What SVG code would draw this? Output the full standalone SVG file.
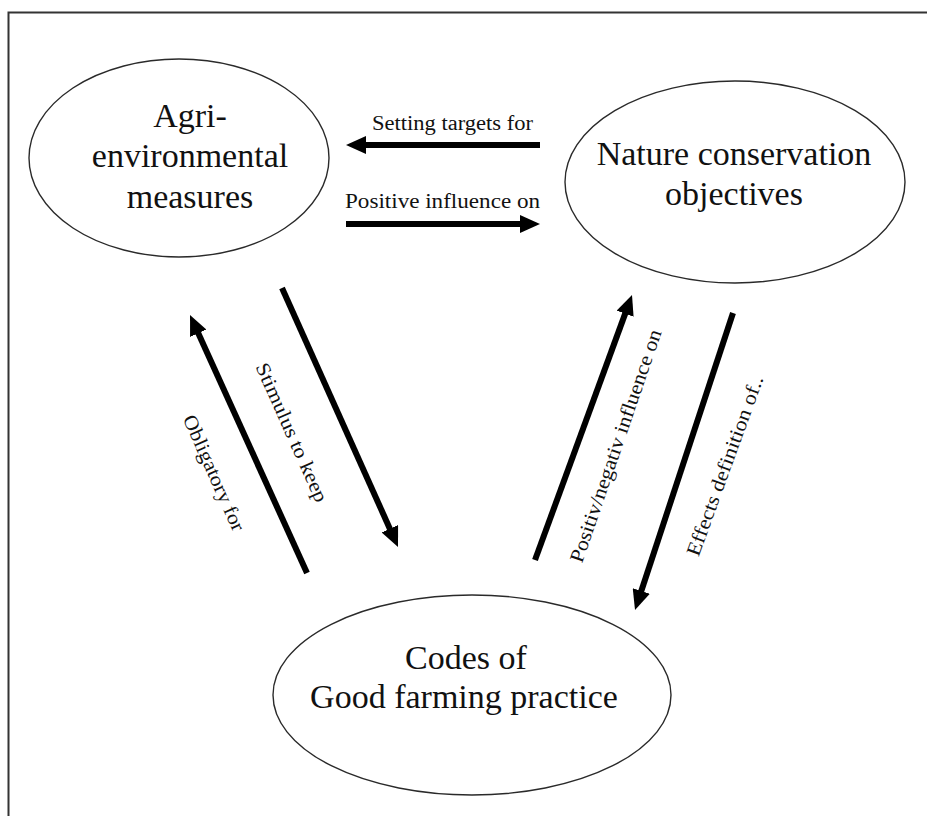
<svg xmlns="http://www.w3.org/2000/svg" width="927" height="816" viewBox="0 0 927 816">
  <style>
    .node ellipse { fill: #ffffff; stroke: #2a2a2a; stroke-width: 1.4; }
    .big { font-size: 34px; fill: #111; text-anchor: middle; }
    .small { font-size: 20px; fill: #111; text-anchor: middle; }
    .edge { stroke: #000; stroke-width: 6; fill: none; marker-end: url(#head); }
  </style>
  <defs>
    <marker id="head" markerUnits="userSpaceOnUse" markerWidth="20" markerHeight="18" refX="6" refY="9" orient="auto">
      <path d="M0,0 L20,9 L0,18 Z" fill="#000"/>
    </marker>
  </defs>

  <rect width="927" height="816" fill="#ffffff"/>
  <!-- outer frame -->
  <rect x="8.5" y="12.5" width="1000" height="900" fill="none" stroke="#333" stroke-width="2"/>

  <g font-family="Liberation Serif, DejaVu Serif, Times New Roman, serif">
    <g id="agri">
      <g class="node">
        <ellipse cx="179" cy="158" rx="150" ry="99"/>
      </g>
      <text class="big" x="190" y="127">Agri-</text>
      <text class="big" x="190" y="167">environmental</text>
      <text class="big" x="190" y="208">measures</text>
    </g>

    <g id="nature">
      <g class="node">
        <ellipse cx="735" cy="182" rx="170" ry="101"/>
      </g>
      <text class="big" x="734" y="165">Nature conservation</text>
      <text class="big" x="734" y="205">objectives</text>
    </g>

    <g id="codes">
      <g class="node">
        <ellipse cx="472" cy="695" rx="199" ry="100"/>
      </g>
      <text class="big" x="466" y="669">Codes of</text>
      <text class="big" x="464" y="708">Good farming practice</text>
    </g>

    <g id="connectors">
      <line class="edge" x1="540" y1="145" x2="360" y2="145"/>
      <line class="edge" x1="346" y1="224" x2="526" y2="224"/>
      <line class="edge" x1="282" y1="288" x2="392.3" y2="534.2"/>
      <line class="edge" x1="307" y1="573" x2="195.8" y2="327.8"/>
      <line class="edge" x1="535" y1="560" x2="627.2" y2="308.1"/>
      <line class="edge" x1="733" y1="313" x2="639.4" y2="596.7"/>

      <text class="small" x="452.5" y="130" textLength="161" lengthAdjust="spacingAndGlyphs">Setting targets for</text>
      <text class="small" x="442.5" y="208" textLength="195" lengthAdjust="spacingAndGlyphs">Positive influence on</text>
      <text class="small" transform="translate(285.8 435.1) rotate(66)" textLength="150" lengthAdjust="spacingAndGlyphs">Stimulus to keep</text>
      <text class="small" transform="translate(208 475.6) rotate(66)" textLength="125" lengthAdjust="spacingAndGlyphs">Obligatory for</text>
      <text class="small" transform="translate(621.9 447.9) rotate(-71)" textLength="245" lengthAdjust="spacingAndGlyphs">Positiv/negativ influence on</text>
      <text class="small" transform="translate(731.1 467.9) rotate(-70)" textLength="190" lengthAdjust="spacingAndGlyphs">Effects definition of..</text>
    </g>
  </g>
</svg>
